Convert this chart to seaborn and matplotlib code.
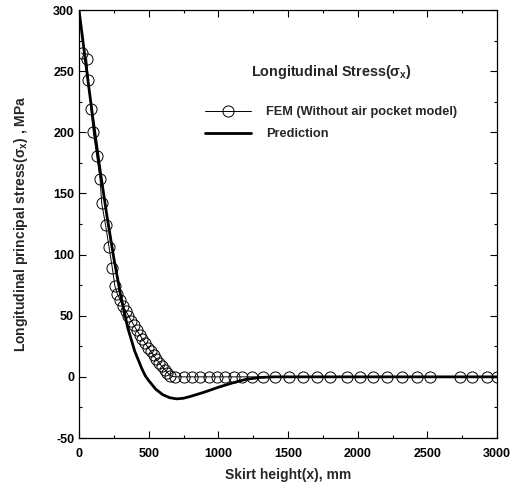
import numpy as np
import pandas as pd
import matplotlib
matplotlib.use("Agg")
import matplotlib.pyplot as plt
from matplotlib.ticker import MultipleLocator
import seaborn as sns

# ---- data ----
fem_x = [19, 55, 67, 86, 103, 127, 151, 163, 191, 215, 239, 258,
         275, 295, 315, 335, 355, 375, 395, 415, 435, 455, 475, 495,
         515, 535, 555, 575, 595, 615, 635, 655,
         690, 750, 810, 870, 930, 990, 1050, 1110, 1170, 1240, 1320,
         1410, 1510, 1610, 1705, 1805, 1920, 2015, 2110, 2210, 2320,
         2425, 2520, 2735, 2820, 2930, 3000]
fem_y = [265, 260, 243, 219, 200, 181, 162, 142, 124, 106.5, 89, 74,
         68, 63, 58, 54, 50, 46, 42, 38, 34.5, 31, 27.5, 24,
         21, 17.5, 14.5, 11.5, 8.5, 6, 3.5, 1,
         0, 0, 0, 0, 0, 0, 0, 0, 0, 0, 0,
         0, 0, 0, 0, 0, 0, 0, 0, 0, 0,
         0, 0, 0, 0, 0, 0]

pred_x = [0, 50, 100, 150, 200, 250, 300, 350, 400, 450, 475, 500, 550, 600,
          650, 700, 750, 800, 900, 1000, 1100, 1200, 1300, 1400, 3000]
pred_y = [300, 255, 211, 170, 132, 97, 66, 40, 21, 7, 1, -3, -10, -14.5,
          -17, -18, -17.5, -16, -12.5, -8.5, -5, -2, -0.5, 0, 0]

fem_label = "FEM (Without air pocket model)"
pred_label = "Prediction"
legend_title = r"Longitudinal Stress($\sigma_x$)"
x_label = "Skirt height(x), mm"
y_label = r"Longitudinal principal stress($\sigma_x$) , MPa"

fem_df = pd.DataFrame({"x": fem_x, "y": fem_y})
pred_df = pd.DataFrame({"x": pred_x, "y": pred_y})

sns.set_style("ticks")
plt.rcParams["font.family"] = ["Liberation Sans", "DejaVu Sans"]
plt.rcParams["font.weight"] = "bold"
plt.rcParams["axes.unicode_minus"] = False
plt.rcParams["mathtext.fontset"] = "custom"
plt.rcParams["mathtext.rm"] = "Liberation Sans:bold"
plt.rcParams["mathtext.it"] = "Liberation Sans:bold"

fig = plt.figure(figsize=(5.28, 4.88), dpi=100)
ax = fig.add_axes([79 / 528, 1 - 438 / 488, 418 / 528, 428 / 488])

sns.lineplot(data=fem_df, x="x", y="y", ax=ax, color="black", lw=0.7,
             marker="o", markersize=8, markerfacecolor="none",
             markeredgecolor="black", markeredgewidth=0.7,
             label=fem_label, sort=False)
sns.lineplot(data=pred_df, x="x", y="y", ax=ax, color="black", lw=2.0,
             label=pred_label, sort=False)

ax.set_xlim(0, 3000)
ax.set_ylim(-50, 300)
ax.xaxis.set_major_locator(MultipleLocator(500))
ax.xaxis.set_minor_locator(MultipleLocator(250))
ax.yaxis.set_major_locator(MultipleLocator(50))
ax.yaxis.set_minor_locator(MultipleLocator(25))
ax.tick_params(which="both", direction="in", top=True, right=True,
               labelsize=9, width=0.8, colors="black")
ax.tick_params(which="major", length=5)
ax.tick_params(which="minor", length=2.5)
ax.tick_params(axis="x", which="major", pad=7)
for lab in ax.get_xticklabels() + ax.get_yticklabels():
    lab.set_fontweight("bold")
for s in ax.spines.values():
    s.set_linewidth(0.9)
    s.set_color("black")

ax.set_xlabel(x_label, fontsize=10, fontweight="bold", labelpad=6)
ax.set_ylabel(y_label, fontsize=10, fontweight="bold", labelpad=17)

leg = ax.legend(title=legend_title, frameon=False, loc="upper left",
                bbox_to_anchor=(0.301, 0.876), borderaxespad=0, borderpad=0,
                handlelength=3.6, handletextpad=1.2, labelspacing=0.8,
                fontsize=9.2, title_fontproperties={"weight": "bold", "size": 10.4})
leg._legend_box.sep = 18

fig.savefig("out.png", dpi=100, facecolor="white")
